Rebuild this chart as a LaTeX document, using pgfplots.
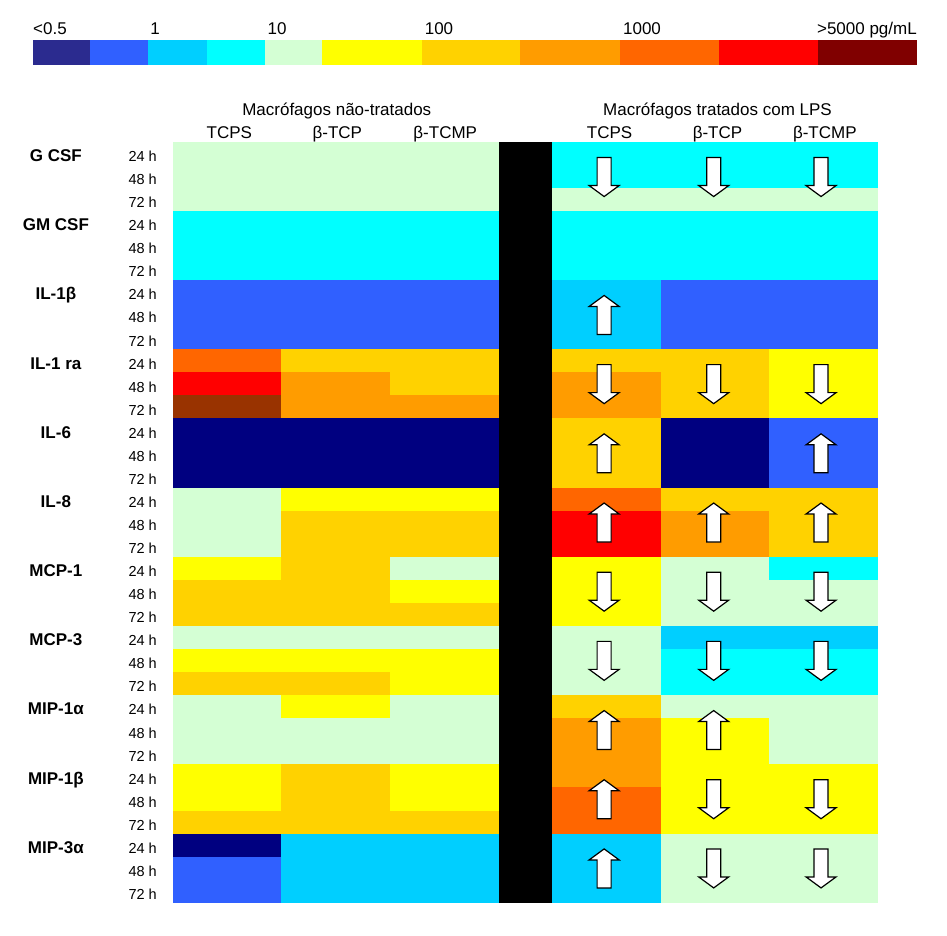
\documentclass[border=0pt]{standalone}
\usepackage{pgfplots}
\pgfplotsset{compat=1.18}
\usepackage{pgfplotstable}
\usepackage{fontspec}
\setmainfont{Liberation Sans}

\definecolor{cb0}{HTML}{2B2B8F}
\definecolor{c0}{HTML}{000080}
\definecolor{c1}{HTML}{3060FF}
\definecolor{c2}{HTML}{00CFFF}
\definecolor{c3}{HTML}{00FFFF}
\definecolor{c4}{HTML}{D4FFD4}
\definecolor{c5}{HTML}{FFFF00}
\definecolor{c6}{HTML}{FFD200}
\definecolor{c7}{HTML}{FF9C00}
\definecolor{c8}{HTML}{FF6600}
\definecolor{c9}{HTML}{FF0000}
\definecolor{c10}{HTML}{800000}
\definecolor{c11}{HTML}{993300}

\pgfdeclareplotmark{cell}{%
  \pgfpathrectangle{\pgfpoint{-54.5pt}{-11.8pt}}{\pgfpoint{109pt}{23.6pt}}%
  \pgfusepathqfill}
\pgfdeclareplotmark{arrdown}{%
  \pgfpathmoveto{\pgfpoint{-7pt}{19.5pt}}%
  \pgfpathlineto{\pgfpoint{7pt}{19.5pt}}%
  \pgfpathlineto{\pgfpoint{7pt}{-8.5pt}}%
  \pgfpathlineto{\pgfpoint{15pt}{-8.5pt}}%
  \pgfpathlineto{\pgfpoint{0pt}{-19.5pt}}%
  \pgfpathlineto{\pgfpoint{-15pt}{-8.5pt}}%
  \pgfpathlineto{\pgfpoint{-7pt}{-8.5pt}}%
  \pgfpathclose
  \pgfsetfillcolor{white}\pgfsetstrokecolor{black}\pgfsetlinewidth{1.2pt}%
  \pgfusepath{fill,stroke}}
\pgfdeclareplotmark{arrup}{%
  \pgfpathmoveto{\pgfpoint{-7pt}{-19.5pt}}%
  \pgfpathlineto{\pgfpoint{7pt}{-19.5pt}}%
  \pgfpathlineto{\pgfpoint{7pt}{8.5pt}}%
  \pgfpathlineto{\pgfpoint{15pt}{8.5pt}}%
  \pgfpathlineto{\pgfpoint{0pt}{19.5pt}}%
  \pgfpathlineto{\pgfpoint{-15pt}{8.5pt}}%
  \pgfpathlineto{\pgfpoint{-7pt}{8.5pt}}%
  \pgfpathclose
  \pgfsetfillcolor{white}\pgfsetstrokecolor{black}\pgfsetlinewidth{1.2pt}%
  \pgfusepath{fill,stroke}}

% rows: G CSF, GM CSF, IL-1b, IL-1 ra, IL-6, IL-8, MCP-1, MCP-3, MIP-1a, MIP-1b, MIP-3a (24/48/72 h)
% level: 0 <0.5 ... 10 >5000 pg/mL ; 11 = brown
\pgfplotstableread{
r  L1 L2 L3 R1 R2 R3
0  4  4  4  3  3  3
1  4  4  4  3  3  3
2  4  4  4  4  4  4
3  3  3  3  3  3  3
4  3  3  3  3  3  3
5  3  3  3  3  3  3
6  1  1  1  2  1  1
7  1  1  1  2  1  1
8  1  1  1  2  1  1
9  8  6  6  6  6  5
10 9  7  6  7  6  5
11 11 7  7  7  6  5
12 0  0  0  6  0  1
13 0  0  0  6  0  1
14 0  0  0  6  0  1
15 4  5  5  8  6  6
16 4  6  6  9  7  6
17 4  6  6  9  7  6
18 5  6  4  5  4  3
19 6  6  5  5  4  4
20 6  6  6  5  4  4
21 4  4  4  4  2  2
22 5  5  5  4  3  3
23 6  6  5  4  3  3
24 4  5  4  6  4  4
25 4  4  4  7  5  4
26 4  4  4  7  5  4
27 5  6  5  7  5  5
28 5  6  5  8  5  5
29 6  6  6  8  5  5
30 0  2  2  2  4  4
31 1  2  2  2  4  4
32 1  2  2  2  4  4
}\cells

\pgfplotsset{cellplot/.style={scatter, only marks, mark=cell,
  point meta=explicit symbolic,
  scatter/classes={0={fill=c0},1={fill=c1},2={fill=c2},3={fill=c3},4={fill=c4},
    5={fill=c5},6={fill=c6},7={fill=c7},8={fill=c8},9={fill=c9},10={fill=c10},11={fill=c11}}}}

\begin{document}
\begin{tikzpicture}
\useasboundingbox (0,0) rectangle (947pt,935pt);
% colour scale
\begin{axis}[at={(33pt,870pt)}, anchor=south west, scale only axis,
  width=884pt, height=25pt, xmin=33, xmax=917, ymin=0, ymax=1,
  hide axis, clip=false]
\addplot[fill=cb0, draw=none] coordinates {(33,0) (33,1) (90,1) (90,0)};
\addplot[fill=c1, draw=none] coordinates {(90,0) (90,1) (148,1) (148,0)};
\addplot[fill=c2, draw=none] coordinates {(148,0) (148,1) (207,1) (207,0)};
\addplot[fill=c3, draw=none] coordinates {(207,0) (207,1) (265,1) (265,0)};
\addplot[fill=c4, draw=none] coordinates {(265,0) (265,1) (322,1) (322,0)};
\addplot[fill=c5, draw=none] coordinates {(322,0) (322,1) (422,1) (422,0)};
\addplot[fill=c6, draw=none] coordinates {(422,0) (422,1) (520,1) (520,0)};
\addplot[fill=c7, draw=none] coordinates {(520,0) (520,1) (620,1) (620,0)};
\addplot[fill=c8, draw=none] coordinates {(620,0) (620,1) (719,1) (719,0)};
\addplot[fill=c9, draw=none] coordinates {(719,0) (719,1) (818,1) (818,0)};
\addplot[fill=c10, draw=none] coordinates {(818,0) (818,1) (917,1) (917,0)};
\begin{scope}[every node/.style={inner sep=0pt, font=\fontsize{17}{19}\selectfont}]
\node[anchor=base west] at (axis cs:33,1.2) {<0.5};
\node[anchor=base] at (axis cs:155,1.2) {1};
\node[anchor=base] at (axis cs:277,1.2) {10};
\node[anchor=base] at (axis cs:439,1.2) {100};
\node[anchor=base] at (axis cs:642,1.2) {1000};
\node[anchor=base east] at (axis cs:917,1.2) {>5000 pg/mL};
\end{scope}
\end{axis}
% heat map
\begin{axis}[at={(173pt,32pt)}, anchor=south west, scale only axis,
  width=705pt, height=761pt, xmin=0, xmax=13, ymin=0, ymax=33,
  y dir=reverse, clip=false,
  axis line style={draw=none}, tick style={draw=none}, major tick length=0pt,
  xtick=\empty,
  ytick={0.5,1.5,...,32.5},
  yticklabels={24 h,48 h,72 h,24 h,48 h,72 h,24 h,48 h,72 h,24 h,48 h,72 h,
    24 h,48 h,72 h,24 h,48 h,72 h,24 h,48 h,72 h,24 h,48 h,72 h,
    24 h,48 h,72 h,24 h,48 h,72 h,24 h,48 h,72 h},
  yticklabel style={font=\fontsize{14.5}{16}\selectfont, anchor=base east,
    inner sep=0pt, xshift=-16pt, yshift=-8pt}]
\addplot[cellplot] table[x expr=1, y expr=\thisrow{r}+0.5, meta=L1] {\cells};
\addplot[cellplot] table[x expr=3, y expr=\thisrow{r}+0.5, meta=L2] {\cells};
\addplot[cellplot] table[x expr=5, y expr=\thisrow{r}+0.5, meta=L3] {\cells};
\addplot[cellplot] table[x expr=8, y expr=\thisrow{r}+0.5, meta=R1] {\cells};
\addplot[cellplot] table[x expr=10, y expr=\thisrow{r}+0.5, meta=R2] {\cells};
\addplot[cellplot] table[x expr=12, y expr=\thisrow{r}+0.5, meta=R3] {\cells};
\addplot[fill=black, draw=none] coordinates {(6,0) (7.01,0) (7.01,33) (6,33)};
% arrows
\addplot[only marks, mark=arrdown] coordinates {
  (7.95,1.52) (9.97,1.52) (11.95,1.52)
  (7.95,10.5) (9.97,10.5) (11.95,10.5)
  (7.95,19.5) (9.97,19.5) (11.95,19.5)
  (7.95,22.5) (9.97,22.5) (11.95,22.5)
  (9.97,28.5) (11.95,28.5)
  (9.97,31.5) (11.95,31.5)};
\addplot[only marks, mark=arrup] coordinates {
  (7.95,7.5)
  (7.95,13.5) (11.95,13.5)
  (7.95,16.5) (9.97,16.5) (11.95,16.5)
  (7.95,25.5) (9.97,25.5)
  (7.95,28.5)
  (7.95,31.5)};
% headers
\begin{scope}[every node/.style={inner sep=0pt, font=\fontsize{17}{19}\selectfont, anchor=base}]
\node at (axis cs:3.02,-1.17) {Macrófagos não-tratados};
\node at (axis cs:10.04,-1.17) {Macrófagos tratados com LPS};
\node at (axis cs:1.04,-0.17) {TCPS};
\node at (axis cs:3.03,-0.17) {β-TCP};
\node at (axis cs:5.02,-0.17) {β-TCMP};
\node at (axis cs:8.05,-0.17) {TCPS};
\node at (axis cs:10.04,-0.17) {β-TCP};
\node at (axis cs:12.02,-0.17) {β-TCMP};
\end{scope}
% cytokine names
\begin{scope}[every node/.style={inner sep=0pt, font=\bfseries\fontsize{17}{19}\selectfont, anchor=base, yshift=-8pt}]
\node at (axis cs:-2.16,0.5) {G CSF};
\node at (axis cs:-2.16,3.5) {GM CSF};
\node at (axis cs:-2.16,6.5) {IL-1β};
\node at (axis cs:-2.16,9.5) {IL-1 ra};
\node at (axis cs:-2.16,12.5) {IL-6};
\node at (axis cs:-2.16,15.5) {IL-8};
\node at (axis cs:-2.16,18.5) {MCP-1};
\node at (axis cs:-2.16,21.5) {MCP-3};
\node at (axis cs:-2.16,24.5) {MIP-1α};
\node at (axis cs:-2.16,27.5) {MIP-1β};
\node at (axis cs:-2.16,30.5) {MIP-3α};
\end{scope}
\end{axis}
\end{tikzpicture}
\end{document}
